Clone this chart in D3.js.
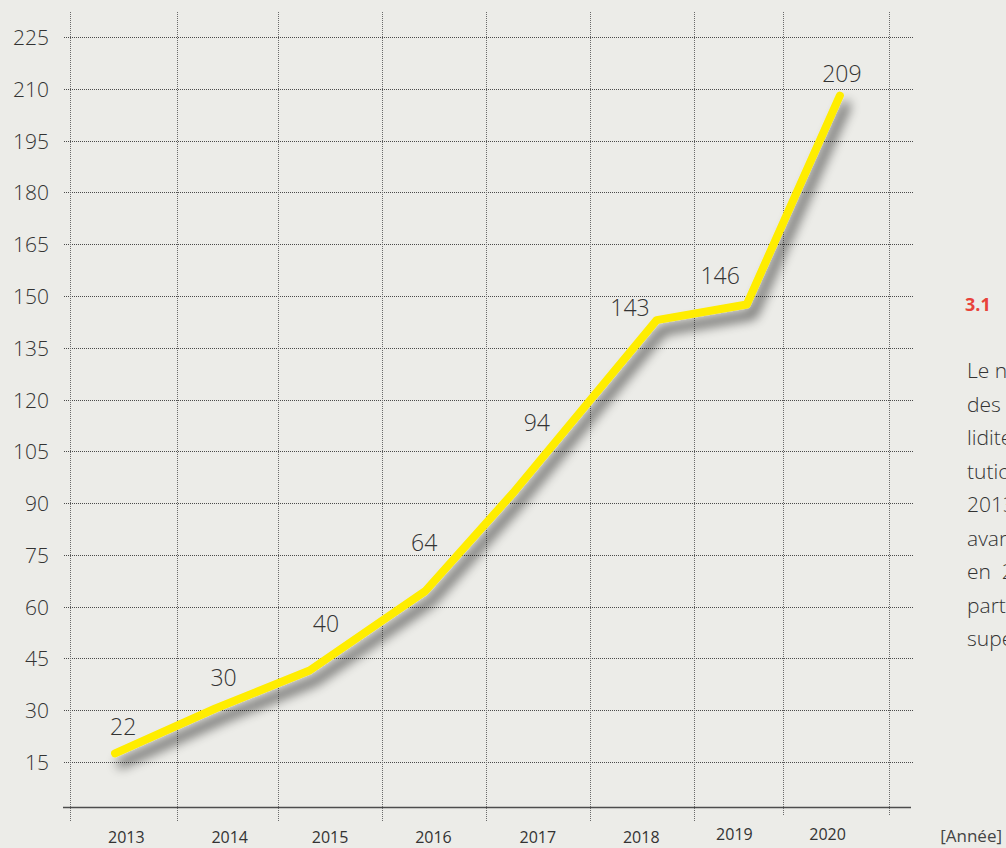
<!DOCTYPE html>
<html lang="fr">
<head>
<meta charset="UTF-8">
<title>Évolution 2013-2020</title>
<script src="https://d3js.org/d3.v7.min.js"></script>
<style>
  body { margin: 0; background: #ecece8; overflow: hidden; }
  svg { display: block; font-family: "Open Sans", sans-serif; }
  .grid line { stroke: #4a4a4a; stroke-width: 1; stroke-dasharray: 1 1; }
  .grid .v { stroke: #6a6a6a; }
  .baseline { stroke: #4d4d4d; stroke-width: 1.5; }
  .tick { font-size: 21px; font-weight: 300; fill: #333; }
  .year { font-size: 16px; font-weight: 400; fill: #333; }
  .val { font-size: 23px; font-weight: 300; fill: #333; }
  .line { fill: none; stroke: #ffed00; stroke-width: 8; stroke-linecap: round; stroke-linejoin: round; }
  .unit { font-size: 17px; fill: #444; }
  .num { font-size: 18px; font-weight: 700; fill: #e8423a; }
  .para { font-size: 21px; font-weight: 300; fill: #333; }
</style>
</head>
<body>
<div id="chart"></div>
<script>
// years on the x axis
var years = [2013, 2014, 2015, 2016, 2017, 2018, 2019, 2020];
// values printed next to the line
var values = [22, 30, 40, 64, 94, 143, 146, 209];
// where the yellow line actually sits
var plotted = [17.5, 30.5, 41.5, 64.5, 93, 143, 147.5, 208];
var plottedAt = [2012.94, 2013.92, 2014.84, 2015.97, 2016.83, 2018.23, 2019.11, 2020.02];
// label anchors, in year / value units
var labelYear = [2013.02, 2014.0, 2015.0, 2015.96, 2017.06, 2017.97, 2018.85, 2020.04];
var labelValue = [22.8, 37, 52.7, 76.1, 110.9, 144.2, 153.5, 212];
// year tick labels and vertical grid lines, in year units
var yearLabelAt = [2013.05, 2014.06, 2015.04, 2016.05, 2017.07, 2018.08, 2018.99, 2019.9];
var gridAt = [2012.5, 2013.55, 2014.53, 2015.55, 2016.56, 2017.58, 2018.6, 2019.46, 2020.5];
var yTicks = [15, 30, 45, 60, 75, 90, 105, 120, 135, 150, 165, 180, 195, 210, 225];
var baseValue = 2;
var sideTitle = "3.1";
var sideLines = ["Le nombre", "des demandes", "lidité", "tutions", "2013", "avant", "en  2020", "partie", "supérieur"];

var width = 1006, height = 848;

var x = d3.scaleLinear().domain([2012.5, 2020.5]).range([70, 889]);
var y = d3.scaleLinear().domain([15, 225]).range([762, 37]);
function px(v) { return Math.round(v) + 0.5; }

var svg = d3.select("#chart").append("svg")
    .attr("width", width)
    .attr("height", height);

// soft drop shadow under the yellow line
var defs = svg.append("defs");
var f = defs.append("filter").attr("id", "shadow")
    .attr("x", "-20%").attr("y", "-20%").attr("width", "140%").attr("height", "140%");
f.append("feGaussianBlur").attr("in", "SourceAlpha").attr("stdDeviation", 6);
f.append("feOffset").attr("dx", 6).attr("dy", 10).attr("result", "off");
f.append("feComponentTransfer").append("feFuncA").attr("type", "linear").attr("slope", 0.65);
var m = f.append("feMerge");
m.append("feMergeNode");
m.append("feMergeNode").attr("in", "SourceGraphic");

// grid
var grid = svg.append("g").attr("class", "grid");
grid.selectAll("line.h").data(yTicks).enter().append("line")
    .attr("class", "h")
    .attr("x1", 64).attr("x2", 914)
    .attr("y1", function(d) { return px(y(d)); })
    .attr("y2", function(d) { return px(y(d)); });
grid.selectAll("line.v").data(gridAt).enter().append("line")
    .attr("class", "v")
    .attr("x1", function(d) { return px(x(d)); })
    .attr("x2", function(d) { return px(x(d)); })
    .attr("y1", 12)
    .attr("y2", function(d, i) { return i >= 7 ? 815 : 821; });

svg.append("line").attr("class", "baseline")
    .attr("x1", 63).attr("x2", 911)
    .attr("y1", px(y(baseValue))).attr("y2", px(y(baseValue)));

// y tick labels
svg.selectAll("text.tick").data(yTicks).enter().append("text")
    .attr("class", "tick")
    .attr("x", 49)
    .attr("y", function(d) { return y(d) + 8; })
    .attr("text-anchor", "end")
    .text(function(d) { return d; });

// year labels
svg.selectAll("text.year").data(years).enter().append("text")
    .attr("class", "year")
    .attr("x", function(d, i) { return x(yearLabelAt[i]); })
    .attr("y", function(d, i) { return i >= 6 ? 840 : 843; })
    .attr("text-anchor", "middle")
    .text(function(d) { return d; });

svg.append("text").attr("class", "unit")
    .attr("x", 1002).attr("y", 842).attr("text-anchor", "end").text("[Année]");

// the line
var line = d3.line()
    .x(function(d, i) { return x(plottedAt[i]); })
    .y(function(d) { return y(d); });
svg.append("path")
    .datum(plotted)
    .attr("class", "line")
    .attr("filter", "url(#shadow)")
    .attr("d", line);

// value labels
svg.selectAll("text.val").data(values).enter().append("text")
    .attr("class", "val")
    .attr("x", function(d, i) { return x(labelYear[i]); })
    .attr("y", function(d, i) { return y(labelValue[i]); })
    .attr("text-anchor", "middle")
    .text(function(d) { return d; });

// side text (cut off by the page edge in the original layout)
svg.append("text").attr("class", "num")
    .attr("x", 965).attr("y", 311).text(sideTitle);
svg.selectAll("text.para").data(sideLines).enter().append("text")
    .attr("class", "para")
    .attr("x", 967)
    .attr("y", function(d, i) { return 378 + i * 33.5; })
    .attr("xml:space", "preserve")
    .style("white-space", "pre")
    .text(function(d) { return d; });
</script>
</body>
</html>
